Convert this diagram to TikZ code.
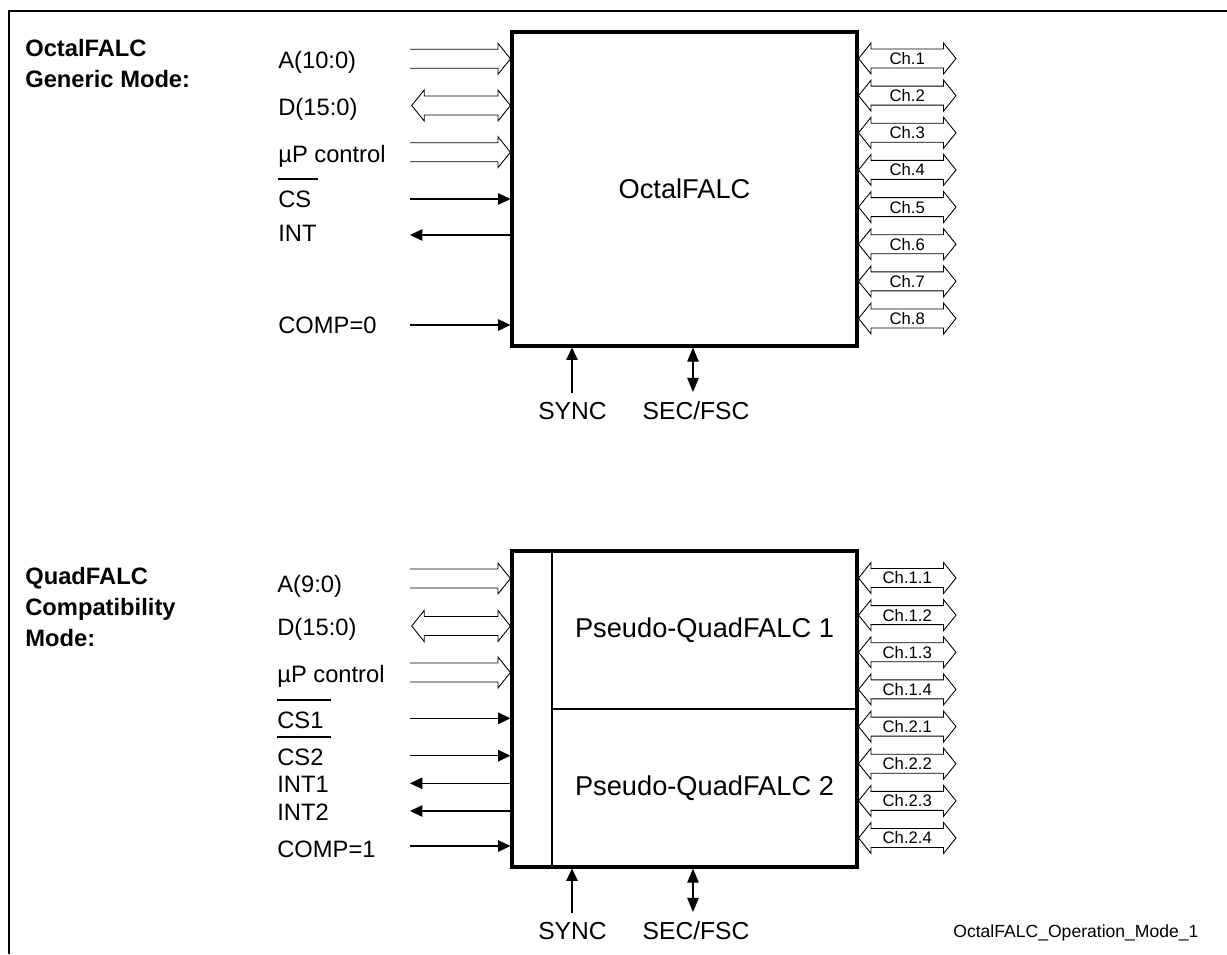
\documentclass[tikz,border=0pt]{standalone}
\usepackage{fontspec}
\setmainfont{Liberation Sans}
\usetikzlibrary{arrows.meta, calc, positioning}

% active-low signal name with a bar over it
\newcommand{\barsig}[1]{\setbox0=\hbox{#1}\rlap{\rule[15.3pt]{\dimexpr\wd0+4pt\relax}{1.1pt}}\box0}

\begin{document}
\begin{tikzpicture}[
    x=0.02cm, y=-0.02cm,
    chip/.style={rectangle, draw=black, line width=1.8pt, inner sep=0pt, font=\fontsize{15.5}{18}\selectfont},
    subchip/.style={rectangle, draw=black, line width=1.1pt, inner sep=0pt, minimum width=6.1cm, minimum height=3.16cm, font=\fontsize{15.5}{18}\selectfont},
    pinlabel/.style={anchor=base west, inner sep=0pt, font=\fontsize{13.5}{16}\selectfont},
    botlabel/.style={anchor=base, inner sep=0pt, font=\fontsize{14}{16}\selectfont},
    modetitle/.style={anchor=base west, inner sep=0pt, align=left, font=\fontsize{13.5}{17.6}\selectfont\bfseries},
    chlabel/.style={inner sep=0pt, font=\fontsize{9.5}{10}\selectfont},
    sig/.style={-{Triangle[length=7pt,width=6.5pt]}, line width=0.6pt},
    sigboth/.style={{Triangle[length=8pt,width=6.5pt]}-{Triangle[length=8pt,width=6.5pt]}, line width=0.6pt},
    busin/.style={line width=0.5pt, to path={
        ($(\tikztostart)+(0,-9.5)$) -- ($(\tikztotarget)+(-12.5,-9.5)$) -- ($(\tikztotarget)+(-12.5,-15.5)$)
        -- (\tikztotarget) -- ($(\tikztotarget)+(-12.5,15.5)$) -- ($(\tikztotarget)+(-12.5,9.5)$)
        -- ($(\tikztostart)+(0,9.5)$)}},
    busboth/.style={line width=0.5pt, to path={
        ($(\tikztostart)+(12.5,-9.5)$) -- ($(\tikztotarget)+(-12.5,-9.5)$) -- ($(\tikztotarget)+(-12.5,-15.5)$)
        -- (\tikztotarget) -- ($(\tikztotarget)+(-12.5,15.5)$) -- ($(\tikztotarget)+(-12.5,9.5)$)
        -- ($(\tikztostart)+(12.5,9.5)$) -- ($(\tikztostart)+(12.5,15.5)$) -- (\tikztostart)
        -- ($(\tikztostart)+(12.5,-15.5)$) -- cycle}}
]
\useasboundingbox (0,0) rectangle (1227,954);
\draw[line width=1.4pt] (1227,11) -- (9,11) -- (9,954);

% generic mode
\node[modetitle] (gtitle) at (25,87) {OctalFALC\\Generic Mode:};
\node[chip, minimum width=6.9cm, minimum height=6.28cm] (oct) at (684.5,189) {OctalFALC};

\node[pinlabel] (gA) at (278,68) {A(10:0)};
\node[pinlabel] (gD) at (278,115) {D(15:0)};
\node[pinlabel] (gP) at (278,162) {µP control};
\node[pinlabel] (gCS) at (278,207) {\barsig{CS}};
\node[pinlabel] (gINT) at (278,241) {INT};
\node[pinlabel] (gCOMP) at (278,333) {COMP=0};

\coordinate (tA) at (410,58.8);
\coordinate (tD) at (411.7,105.5);
\coordinate (tP) at (410,152.2);
\coordinate (tCS) at (410,199);
\coordinate (tINT) at (410,235);
\coordinate (tCOMP) at (410,325);
\draw[busin] (tA) to (tA -| oct.west);
\draw[busboth] (tD) to (tD -| oct.west);
\draw[busin] (tP) to (tP -| oct.west);
\draw[sig] (tCS) -- (tCS -| oct.west);
\draw[sig] (tINT -| oct.west) -- (tINT);
\draw[sig] (tCOMP) -- (tCOMP -| oct.west);

\foreach \i in {1,...,8} {
    \coordinate (och\i) at (956,58.5+37.14*\i-37.14);
    \draw[busboth] (och\i -| oct.east) to (och\i);
    \path (och\i -| oct.east) -- node[chlabel] (ocl\i) {Ch.\i} (och\i);
}

\coordinate (gsync) at (572,393);
\coordinate (gsec) at (693,392);
\draw[sig] (gsync) -- (gsync |- oct.south);
\draw[sigboth] (gsec) -- (gsec |- oct.south);
\node[botlabel] (gSYNC) at (572.5,419) {SYNC};
\node[botlabel] (gSEC) at (696,419) {SEC/FSC};

% compatibility mode
\node[modetitle] (qtitle) at (25,646) {QuadFALC\\Compatibility\\Mode:};
\node[subchip] (pq1) at (704.5,630) {Pseudo-QuadFALC 1};
\node[subchip] (pq2) at (704.5,788) {Pseudo-QuadFALC 2};
\node[chip, minimum width=6.9cm, minimum height=6.32cm] (quad) at (684.5,709) {};

\node[pinlabel] (qA) at (277,592) {A(9:0)};
\node[pinlabel] (qD) at (277,635) {D(15:0)};
\node[pinlabel] (qP) at (277,682) {µP control};
\node[pinlabel] (qCS1) at (277,728) {\barsig{CS1}};
\node[pinlabel] (qCS2) at (277,765) {\barsig{CS2}};
\node[pinlabel] (qINT1) at (277,792) {INT1};
\node[pinlabel] (qINT2) at (277,820) {INT2};
\node[pinlabel] (qCOMP) at (277,857) {COMP=1};

\coordinate (bA) at (410,578.5);
\coordinate (bD) at (411.7,626);
\coordinate (bP) at (410,672.5);
\coordinate (bCS1) at (410,718.3);
\coordinate (bCS2) at (410,755.7);
\coordinate (bINT1) at (410,783.3);
\coordinate (bINT2) at (410,811);
\coordinate (bCOMP) at (410,846);
\draw[busin] (bA) to (bA -| quad.west);
\draw[busboth] (bD) to (bD -| quad.west);
\draw[busin] (bP) to (bP -| quad.west);
\draw[sig] (bCS1) -- (bCS1 -| quad.west);
\draw[sig] (bCS2) -- (bCS2 -| quad.west);
\draw[sig] (bINT1 -| quad.west) -- (bINT1);
\draw[sig] (bINT2 -| quad.west) -- (bINT2);
\draw[sig] (bCOMP) -- (bCOMP -| quad.west);

\foreach \g/\j [count=\k] in {1/1,1/2,1/3,1/4,2/1,2/2,2/3,2/4} {
    \coordinate (qch\k) at (956,578+37.14*\k-37.14);
    \draw[busboth] (qch\k -| quad.east) to (qch\k);
    \path (qch\k -| quad.east) -- node[chlabel] (qcl\k) {Ch.\g.\j} (qch\k);
}

\coordinate (qsync) at (572,913);
\coordinate (qsec) at (693,912);
\draw[sig] (qsync) -- (qsync |- quad.south);
\draw[sigboth] (qsec) -- (qsec |- quad.south);
\node[botlabel] (qSYNC) at (572.5,939) {SYNC};
\node[botlabel] (qSEC) at (696,939) {SEC/FSC};

\node[inner sep=0pt, anchor=base west, font=\fontsize{10}{12}\selectfont] (fname) at (953,937) {OctalFALC\_Operation\_Mode\_1};

\end{tikzpicture}
\end{document}
